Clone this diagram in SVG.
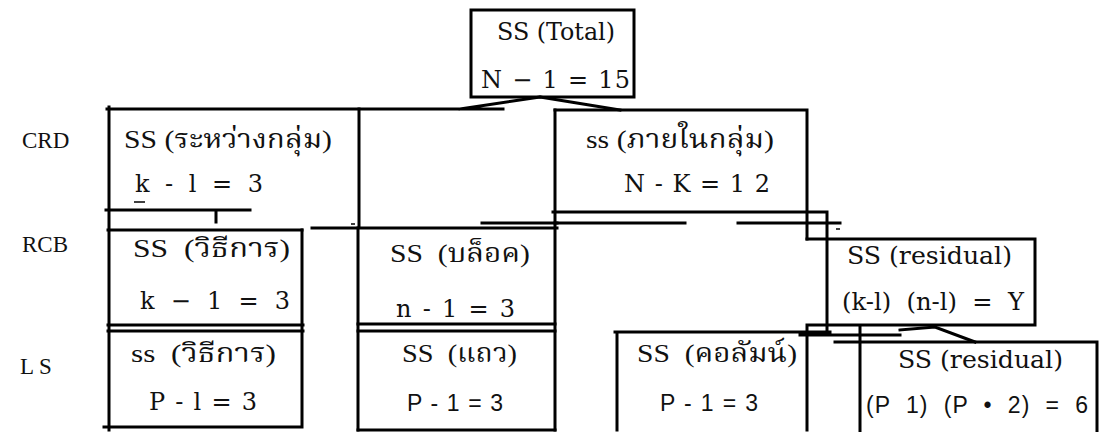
<svg xmlns="http://www.w3.org/2000/svg" width="1105" height="432" viewBox="0 0 1105 432">
<style>
.ln{stroke:#000;stroke-width:3;fill:none;stroke-linecap:square}
.th{stroke:#000;stroke-width:1.5;fill:none}
text{white-space:pre}
.s{font-family:"DejaVu Serif","Liberation Serif","Noto Serif Thai","Noto Sans Thai",serif;font-size:24px;fill:#111}
.t{font-family:"Liberation Serif","Noto Serif Thai","Noto Sans Thai",serif;font-size:26px;fill:#111}
.ss{font-family:"Liberation Sans","Noto Sans Thai",sans-serif;font-size:23px;fill:#111}
.lab{font-family:"Liberation Serif",serif;font-size:23px;fill:#111}
</style>
<rect width="1105" height="432" fill="#fff"/>
<g id="labels">
<text class="lab" x="22" y="148">CRD</text>
<text class="lab" x="22" y="252">RCB</text>
<text class="lab" x="20" y="374">L S</text>
</g>
<g id="connectors">
<path class="ln" d="M109 107V430M107 109H503M540 97L460 109M540 97L620 110"/>
<path class="ln" d="M359 109V228M106 210H250M216 210V222M312 228H557M482 223H557"/>
<path class="th" d="M351 224H355M836 229H840"/>
<path class="ln" d="M108 230H302M358 228V430M555 110V430"/>
<path class="ln" d="M108 325H303M108 331H303M358 324H555M358 331H555"/>
<path class="ln" d="M302 230V427M104 427H302M358 430H555"/>
<path class="ln" d="M555 110H807V239M553 212H827V332M555 223H685M738 223H840"/>
<path class="ln" d="M807 239H1035V325H807M617 332V430M615 332H830M807 325V430M800 335H900M860 327V432M835 342H1097V432"/>
<path class="ln" d="M900 330L935 327L975 342"/>
</g>
<g id="n-total">
<rect class="ln" x="471" y="10" width="163" height="87"/>
<text class="s" x="497" y="40" textLength="118" lengthAdjust="spacingAndGlyphs">SS (Total)</text>
<text class="s" x="481" y="88" textLength="149">N − 1 = 15</text>
</g>
<g id="n-crd-between">
<text class="t" x="124" y="148" textLength="208" lengthAdjust="spacingAndGlyphs">SS (ระหว่างกลุ่ม)</text>
<text class="s" x="135" y="192" textLength="128">k  -  l  =  3</text>
<path class="th" d="M134 202H145"/>
</g>
<g id="n-crd-within">
<text class="t" x="586" y="148" textLength="188" lengthAdjust="spacingAndGlyphs">ss (ภายในกลุ่ม)</text>
<text class="s" x="624" y="192" textLength="146">N - K = 1 2</text>
</g>
<g id="n-rcb-trt">
<text class="t" x="133" y="257" textLength="157" lengthAdjust="spacingAndGlyphs">SS  (วิธีการ)</text>
<text class="s" x="140" y="309" textLength="150">k  −  1  =  3</text>
</g>
<g id="n-rcb-block">
<text class="t" x="390" y="262" textLength="140" lengthAdjust="spacingAndGlyphs">SS  (บล็อค)</text>
<text class="s" x="396" y="317" textLength="119">n - 1 = 3</text>
</g>
<g id="n-rcb-res">
<text class="s" x="847" y="264" textLength="165" lengthAdjust="spacingAndGlyphs">SS (residual)</text>
<text class="s" x="842" y="310" textLength="182" lengthAdjust="spacingAndGlyphs">(k-l)  (n-l)  =  Y</text>
</g>
<g id="n-ls-trt">
<text class="t" x="131" y="362" textLength="145" lengthAdjust="spacingAndGlyphs">ss  (วิธีการ)</text>
<text class="s" x="149" y="410" textLength="108">P - l = 3</text>
</g>
<g id="n-ls-row">
<text class="t" x="402" y="362" textLength="115" lengthAdjust="spacingAndGlyphs">SS  (แถว)</text>
<text class="ss" x="407" y="411" textLength="96">P - 1 = 3</text>
</g>
<g id="n-ls-col">
<text class="t" x="637" y="362" textLength="160" lengthAdjust="spacingAndGlyphs">SS  (คอลัมน์)</text>
<text class="ss" x="660" y="411" textLength="98">P - 1 = 3</text>
</g>
<g id="n-ls-res">
<text class="s" x="898" y="368" textLength="165" lengthAdjust="spacingAndGlyphs">SS (residual)</text>
<text class="ss" x="866" y="413" textLength="222">(P  1)  (P  •  2)  =  6</text>
</g>
</svg>
